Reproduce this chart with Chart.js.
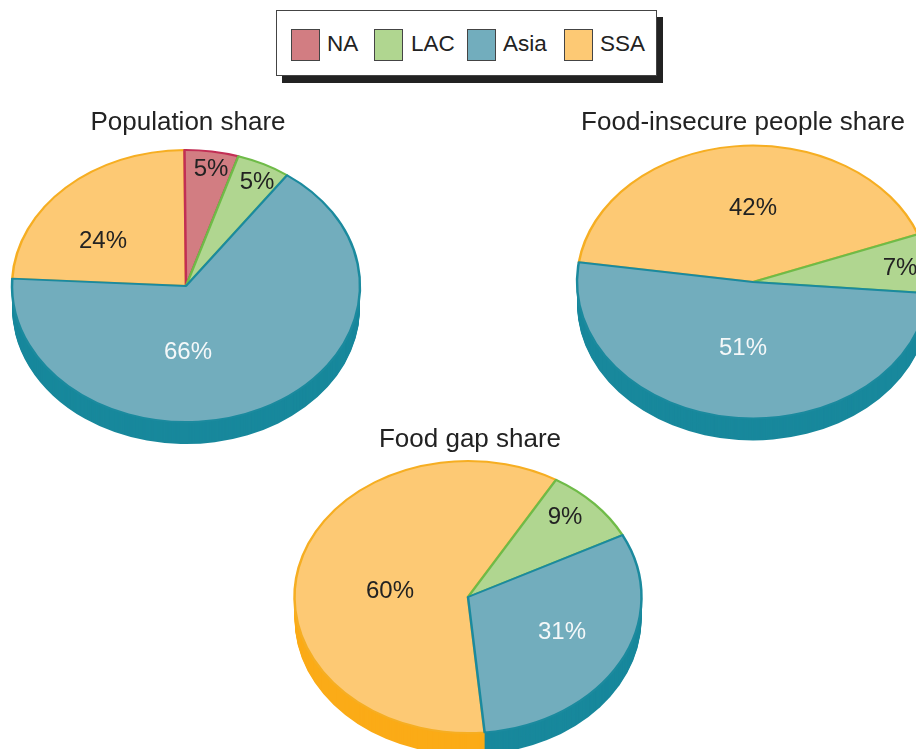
<!DOCTYPE html>
<html>
<head>
<meta charset="utf-8">
<title>Regional shares</title>
<script src="https://cdn.jsdelivr.net/npm/chart.js@4"></script>
<style>
    html, body { margin: 0; padding: 0; background: #fff; }
    body { position: relative; width: 916px; height: 749px; overflow: hidden; font-family: "Liberation Sans", Arial, sans-serif; color: #222; }
    canvas { position: absolute; }
    #legend { position: absolute; left: 276px; top: 10px; width: 379px; height: 64px; background: #fff; border: 1px solid #444; box-shadow: 6px 7px 0 #222; }
    #legend .swatch { position: absolute; top: 18px; width: 27px; height: 30px; border: 1px solid #444; }
    #legend .name { position: absolute; top: 20px; font-size: 22.5px; line-height: 26px; }
</style>
</head>
<body>
<div id="legend"></div>
<canvas id="populationChart" width="380" height="380" style="left:-4px;top:96px"></canvas>
<canvas id="insecureChart" width="380" height="380" style="left:563px;top:92px"></canvas>
<canvas id="gapChart" width="380" height="380" style="left:278px;top:407px"></canvas>

<script>
const categories = ['NA', 'LAC', 'Asia', 'SSA'];
const populationShare = [5, 5, 66, 24];
const insecureShare = [0, 7, 51, 42];
const gapShare = [0, 9, 31, 60];

const faceColors = ['#d27d82', '#b0d690', '#72adbd', '#fdc974'];
const edgeColors = ['#c22f55', '#6fbb48', '#1b8a9e', '#f6ae22'];
const sideColors = ['#b8344f', '#6fbb48', '#18889c', '#fbab17'];
const labelColors = ['#222', '#222', '#f5f8f9', '#222'];

// SSA goes down first so the Asia and LAC outlines stay on top
const drawOrder = [3, 0, 1, 2];

const DEPTH = 22;

// legend x positions for swatch and name
const legendX = [[14, 50], [97, 134], [190, 226], [287, 323]];
const legend = document.getElementById('legend');
categories.forEach(function(name, i) {
    const swatch = document.createElement('div');
    swatch.className = 'swatch';
    swatch.style.left = legendX[i][0] + 'px';
    swatch.style.background = faceColors[i];
    legend.appendChild(swatch);
    const text = document.createElement('div');
    text.className = 'name';
    text.style.left = legendX[i][1] + 'px';
    text.textContent = name;
    legend.appendChild(text);
});

// tilts the pie into an ellipse, adds the side wall, then writes title and labels
const tiltedPie = {
    id: 'tiltedPie',
    beforeDatasetDraw(chart, args, opts) {
        const ctx = chart.ctx;
        const arcs = chart.getDatasetMeta(0).data;
        const cx = arcs[0].x;
        const cy = arcs[0].y;
        ctx.save();
        ctx.translate(cx, cy);
        ctx.scale(1, opts.tilt);
        ctx.translate(-cx, -cy);
        for (let d = DEPTH; d > 0; d--) {
            const y = cy + d / opts.tilt;
            arcs.forEach(function(arc, i) {
                if (arc.circumference === 0) return;
                ctx.fillStyle = sideColors[i];
                ctx.beginPath();
                ctx.moveTo(cx, y);
                ctx.arc(cx, y, arc.outerRadius, arc.startAngle, arc.endAngle);
                ctx.closePath();
                ctx.fill();
            });
        }
        drawOrder.forEach(function(i) {
            arcs[i].draw(ctx);
        });
        ctx.restore();
        return false;
    },
    afterDraw(chart, args, opts) {
        const ctx = chart.ctx;
        const cx = chart.getDatasetMeta(0).data[0].x;
        const cy = chart.getDatasetMeta(0).data[0].y;
        ctx.save();
        ctx.textAlign = 'center';
        ctx.textBaseline = 'middle';
        ctx.fillStyle = '#222';
        ctx.font = '26px "Liberation Sans", Arial, sans-serif';
        ctx.fillText(opts.title, cx + opts.titleAt[0], cy + opts.titleAt[1]);
        ctx.font = '24px "Liberation Sans", Arial, sans-serif';
        chart.data.datasets[0].data.forEach(function(value, i) {
            if (!value) return;
            ctx.fillStyle = labelColors[i];
            ctx.fillText(value + '%', cx + opts.labelsAt[i][0], cy + opts.labelsAt[i][1]);
        });
        ctx.restore();
    }
};

function makePie(id, values, rotation, radius, settings) {
    return new Chart(document.getElementById(id), {
        type: 'pie',
        data: {
            labels: categories,
            datasets: [{
                data: values,
                backgroundColor: faceColors,
                borderColor: edgeColors,
                borderWidth: 2.5,
                borderJoinStyle: 'round',
                radius: radius
            }]
        },
        options: {
            responsive: false,
            animation: false,
            rotation: rotation,
            plugins: {
                legend: { display: false },
                tooltip: { enabled: false },
                tiltedPie: settings
            }
        },
        plugins: [tiltedPie]
    });
}

makePie('populationChart', populationShare, -0.5, 174, {
    tilt: 0.782,
    title: 'Population share',
    titleAt: [2, -163],
    labelsAt: [[25, -117], [71, -104], [2, 66], [-83, -45]]
});

makePie('insecureChart', insecureShare, 69.5, 176, {
    tilt: 0.775,
    title: 'Food-insecure people share',
    titleAt: [-10, -159],
    labelsAt: [[0, 0], [147, -14], [-10, 66], [0, -74]]
});

makePie('gapChart', gapShare, 30.5, 173.5, {
    tilt: 0.784,
    title: 'Food gap share',
    titleAt: [2, -157],
    labelsAt: [[0, 0], [97, -80], [94, 35], [-78, -6]]
});
</script>
</body>
</html>
